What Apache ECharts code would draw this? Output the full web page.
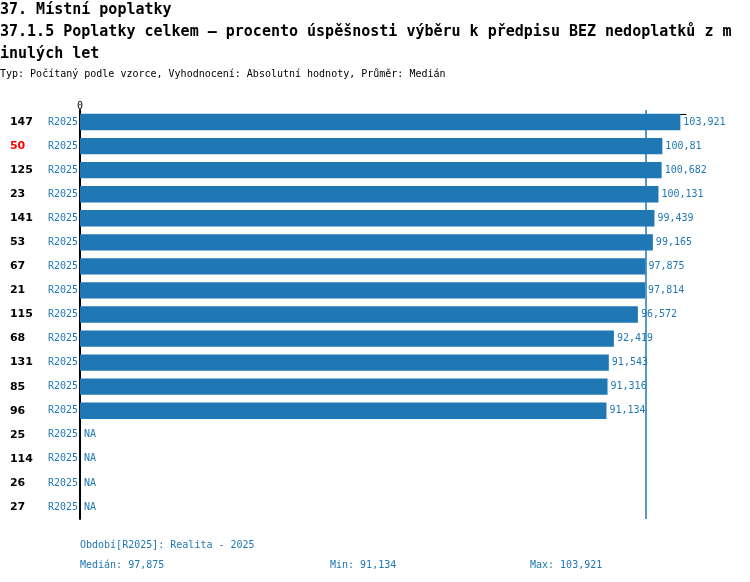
<!DOCTYPE html>
<html>
<head>
<meta charset="utf-8">
<script src="https://cdn.jsdelivr.net/npm/echarts@6/dist/echarts.min.js"></script>
<style>
  html, body { margin: 0; padding: 0; background: #fff; }
  #main { width: 750px; height: 582px; }
</style>
</head>
<body>
<div id="main"></div>
<script>
// kategorie (obce) a hodnoty
var categories = ['147', '50', '125', '23', '141', '53', '67', '21', '115', '68', '131', '85', '96', '25', '114', '26', '27'];
var periods = ['R2025', 'R2025', 'R2025', 'R2025', 'R2025', 'R2025', 'R2025', 'R2025', 'R2025', 'R2025', 'R2025', 'R2025', 'R2025', 'R2025', 'R2025', 'R2025', 'R2025'];
var values = [103.921, 100.81, 100.682, 100.131, 99.439, 99.165, 97.875, 97.814, 96.572, 92.419, 91.543, 91.316, 91.134, null, null, null, null];
var highlighted = '50';
var median = 97.875;
var minValue = 91.134;
var maxValue = 103.921;
var axisMax = 104.9;

var blue = '#1f77b4';
var mono = '"DejaVu Sans Mono", monospace';

function fmt(v) {
    return String(v).replace('.', ',');
}

var barData = values.map(function (v) {
    if (v == null) {
        return { value: 0, label: { formatter: 'NA', distance: 4 } };
    }
    return v;
});

var myChart = echarts.init(document.getElementById('main'));
var option = {
    animation: false,
    title: {
        text: '37. Místní poplatky\n37.1.5 Poplatky celkem – procento úspěšnosti výběru k předpisu BEZ nedoplatků z m\ninulých let',
        subtext: 'Typ: Počítaný podle vzorce, Vyhodnocení: Absolutní hodnoty, Průměr: Medián',
        left: 0,
        top: -1,
        padding: 0,
        itemGap: 3,
        textStyle: {
            fontFamily: mono,
            fontSize: 15,
            fontWeight: 'bold',
            color: '#000',
            lineHeight: 22
        },
        subtextStyle: {
            fontFamily: mono,
            fontSize: 10,
            color: '#000',
            lineHeight: 12
        }
    },
    grid: {
        left: 80,
        right: 64,
        top: 110,
        height: 409
    },
    xAxis: {
        type: 'value',
        position: 'top',
        min: 0,
        max: axisMax,
        offset: -4,
        axisLine: { show: true, lineStyle: { color: '#000', width: 1 } },
        axisTick: { show: false },
        splitLine: { show: false },
        axisLabel: {
            margin: 3,
            fontFamily: mono,
            fontSize: 10,
            color: '#000',
            showMaxLabel: false,
            formatter: function (v) { return v === 0 ? '0' : ''; }
        }
    },
    yAxis: {
        type: 'category',
        inverse: true,
        data: categories,
        axisLine: { show: true, onZero: false, lineStyle: { color: '#000', width: 2 } },
        axisTick: { show: false },
        axisLabel: {
            margin: 2,
            formatter: function (value, idx) {
                var key = value === highlighted ? 'h' : 'n';
                return '{' + key + '|' + value + '}{r|' + periods[idx] + '}';
            },
            rich: {
                n: { width: 38, align: 'left', fontFamily: '"DejaVu Sans", sans-serif', fontWeight: 'bold', fontSize: 11, color: '#000' },
                h: { width: 38, align: 'left', fontFamily: '"DejaVu Sans", sans-serif', fontWeight: 'bold', fontSize: 11, color: '#ff0000' },
                r: { fontFamily: mono, fontSize: 10, color: blue }
            }
        }
    },
    series: [
        {
            // medián - čára za sloupci
            type: 'line',
            z: 1,
            data: [],
            markLine: {
                silent: true,
                symbol: 'none',
                label: { show: false },
                lineStyle: { color: blue, type: 'solid', width: 1.5, opacity: 1 },
                data: [{ xAxis: median }]
            }
        },
        {
            type: 'bar',
            z: 3,
            data: barData,
            barCategoryGap: '32%',
            itemStyle: { color: blue },
            label: {
                show: true,
                position: 'right',
                distance: 3,
                fontFamily: mono,
                fontSize: 10,
                color: blue,
                formatter: function (p) { return fmt(p.value); }
            }
        }
    ],
    graphic: [
        {
            type: 'text', left: 80, top: 540,
            style: { text: 'Období[R2025]: Realita - 2025', fill: blue, font: '10px ' + mono }
        },
        {
            type: 'text', left: 80, top: 560,
            style: { text: 'Medián: ' + fmt(median), fill: blue, font: '10px ' + mono }
        },
        {
            type: 'text', left: 330, top: 560,
            style: { text: 'Min: ' + fmt(minValue), fill: blue, font: '10px ' + mono }
        },
        {
            type: 'text', left: 530, top: 560,
            style: { text: 'Max: ' + fmt(maxValue), fill: blue, font: '10px ' + mono }
        }
    ]
};
myChart.setOption(option);
</script>
</body>
</html>
